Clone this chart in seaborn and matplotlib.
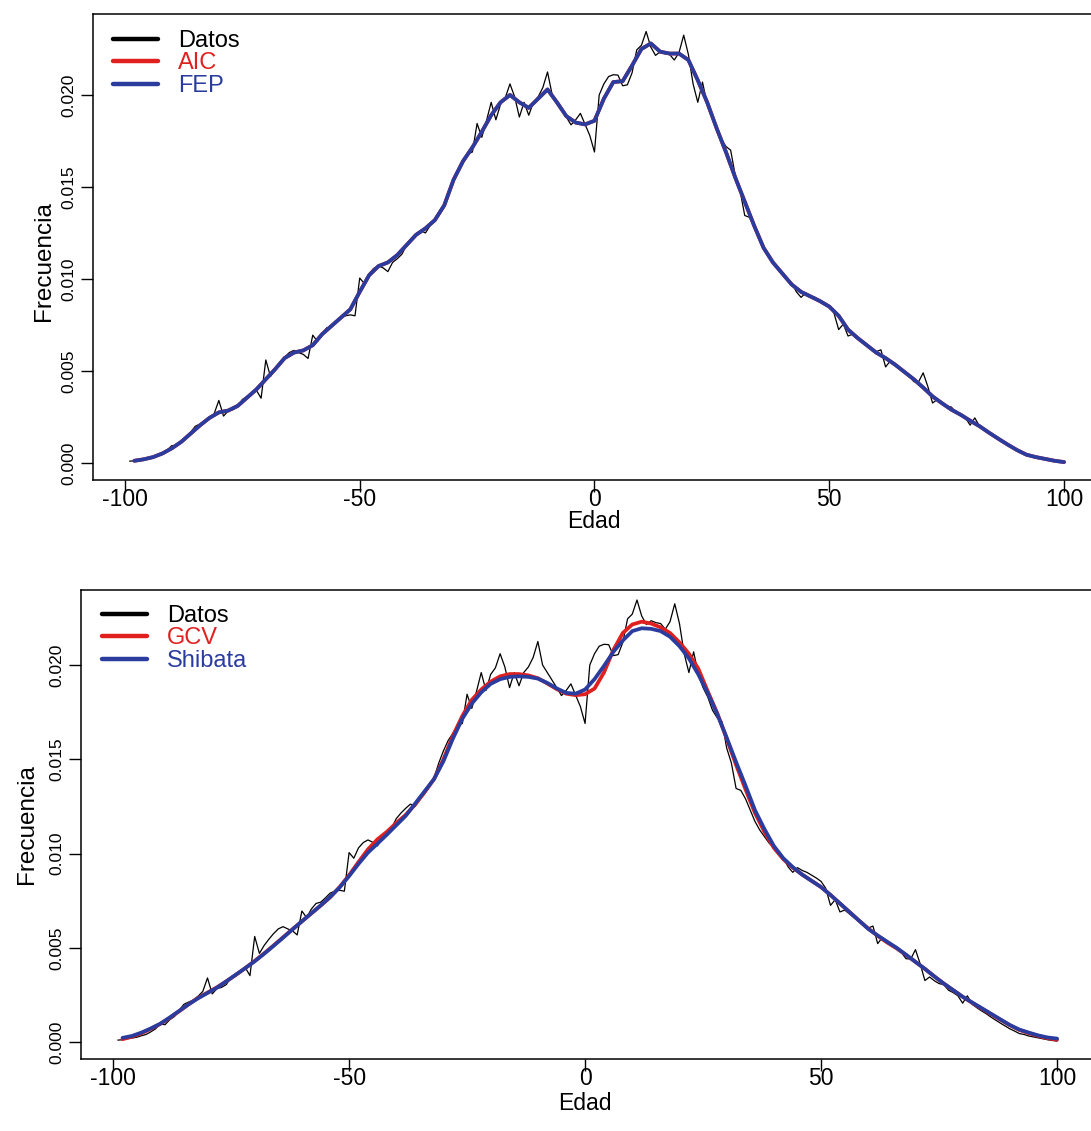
import matplotlib
matplotlib.use("Agg")
import matplotlib.pyplot as plt
import seaborn as sns
from matplotlib.lines import Line2D

# edades (eje x) de los datos y de las curvas suavizadas
edad = list(range(-99, 101))
edad_suave = list(range(-98, 101, 2))

# frecuencias observadas (linea negra fina), una por edad de -99 a 100
datos = [
    0.00010, 0.00012, 0.00017, 0.00021, 0.00025, 0.00033, 0.00040, 0.00054, 0.00070, 0.00095,
    0.00092, 0.00118, 0.00135, 0.00168, 0.00200, 0.00212, 0.00222, 0.00243, 0.00268, 0.00340,
    0.00255, 0.00283, 0.00290, 0.00305, 0.00345, 0.00362, 0.00378, 0.00395, 0.00352, 0.00560,
    0.00470, 0.00512, 0.00545, 0.00575, 0.00600, 0.00612, 0.00600, 0.00590, 0.00568, 0.00695,
    0.00660, 0.00705, 0.00735, 0.00742, 0.00765, 0.00790, 0.00800, 0.00805, 0.00800, 0.01005,
    0.00975, 0.01030, 0.01058, 0.01072, 0.01060, 0.01040, 0.01090, 0.01110, 0.01135, 0.01185,
    0.01215, 0.01240, 0.01262, 0.01250, 0.01290, 0.01325, 0.01352, 0.01402, 0.01480, 0.01545,
    0.01600, 0.01638, 0.01680, 0.01690, 0.01845, 0.01770, 0.01860, 0.01960, 0.01865, 0.01950,
    0.01985, 0.02060, 0.01990, 0.01880, 0.01960, 0.01890, 0.01960, 0.01990, 0.02040, 0.02125,
    0.02000, 0.01960, 0.01920, 0.01880, 0.01838, 0.01865, 0.01900, 0.01840, 0.01780, 0.01690,
    0.02000, 0.02060, 0.02100, 0.02110, 0.02108, 0.02050, 0.02055, 0.02120, 0.02245, 0.02270,
    0.02345, 0.02260, 0.02215, 0.02235, 0.02225, 0.02220, 0.02190, 0.02230, 0.02325, 0.02220,
    0.02060, 0.01960, 0.02070, 0.01950, 0.01880, 0.01830, 0.01760, 0.01720, 0.01700, 0.01560,
    0.01480, 0.01345, 0.01335, 0.01290, 0.01230, 0.01170, 0.01125, 0.01090, 0.01055, 0.01030,
    0.01000, 0.00978, 0.00930, 0.00900, 0.00925, 0.00910, 0.00900, 0.00885, 0.00870, 0.00852,
    0.00815, 0.00725, 0.00755, 0.00690, 0.00700, 0.00680, 0.00660, 0.00640, 0.00620, 0.00605,
    0.00615, 0.00522, 0.00555, 0.00535, 0.00515, 0.00495, 0.00475, 0.00442, 0.00440, 0.00490,
    0.00415, 0.00326, 0.00345, 0.00325, 0.00310, 0.00304, 0.00275, 0.00262, 0.00245, 0.00206,
    0.00245, 0.00200, 0.00182, 0.00165, 0.00150, 0.00132, 0.00116, 0.00100, 0.00085, 0.00070,
    0.00058, 0.00045, 0.00040, 0.00032, 0.00027, 0.00022, 0.00017, 0.00012, 0.00008, 0.00005,
]

# panel superior: FEP (AIC queda justo debajo, coincide)
fep = [
    0.00012, 0.00020, 0.00032, 0.00052, 0.00080, 0.00115, 0.00160, 0.00205, 0.00245, 0.00275,
    0.00285, 0.00310, 0.00355, 0.00400, 0.00455, 0.00510, 0.00570, 0.00600, 0.00612, 0.00640,
    0.00700, 0.00745, 0.00790, 0.00835, 0.00930, 0.01020, 0.01070, 0.01090, 0.01130, 0.01185,
    0.01240, 0.01275, 0.01320, 0.01400, 0.01540, 0.01640, 0.01715, 0.01800, 0.01890, 0.01960,
    0.02000, 0.01960, 0.01930, 0.01980, 0.02030, 0.01960, 0.01885, 0.01850, 0.01840, 0.01860,
    0.01980, 0.02070, 0.02075, 0.02160, 0.02250, 0.02280, 0.02235, 0.02225, 0.02225, 0.02190,
    0.02080, 0.01960, 0.01820, 0.01690, 0.01550, 0.01420, 0.01290, 0.01170, 0.01090, 0.01030,
    0.00970, 0.00930, 0.00905, 0.00880, 0.00850, 0.00800, 0.00725, 0.00680, 0.00640, 0.00600,
    0.00570, 0.00535, 0.00495, 0.00455, 0.00410, 0.00362, 0.00325, 0.00290, 0.00262, 0.00230,
    0.00200, 0.00165, 0.00132, 0.00100, 0.00070, 0.00045, 0.00032, 0.00022, 0.00012, 0.00005,
]
aic = list(fep)

# panel inferior
gcv = [
    0.00015, 0.00028, 0.00046, 0.00070, 0.00096, 0.00128, 0.00163, 0.00200, 0.00234, 0.00262,
    0.00290, 0.00322, 0.00356, 0.00392, 0.00430, 0.00470, 0.00512, 0.00555, 0.00598, 0.00640,
    0.00682, 0.00724, 0.00768, 0.00822, 0.00885, 0.00955, 0.01022, 0.01075, 0.01115, 0.01162,
    0.01205, 0.01260, 0.01325, 0.01395, 0.01500, 0.01625, 0.01730, 0.01815, 0.01870, 0.01912,
    0.01940, 0.01952, 0.01952, 0.01945, 0.01930, 0.01902, 0.01872, 0.01848, 0.01840, 0.01845,
    0.01875, 0.01960, 0.02080, 0.02170, 0.02215, 0.02230, 0.02220, 0.02200, 0.02170, 0.02120,
    0.02060, 0.01980, 0.01860, 0.01745, 0.01610, 0.01470, 0.01340, 0.01215, 0.01115, 0.01030,
    0.00970, 0.00925, 0.00888, 0.00855, 0.00822, 0.00780, 0.00735, 0.00690, 0.00645, 0.00602,
    0.00563, 0.00528, 0.00497, 0.00462, 0.00425, 0.00388, 0.00348, 0.00310, 0.00275, 0.00240,
    0.00208, 0.00178, 0.00148, 0.00118, 0.00089, 0.00064, 0.00047, 0.00032, 0.00020, 0.00012,
]
shibata = [
    0.00022, 0.00032, 0.00050, 0.00072, 0.00097, 0.00130, 0.00165, 0.00200, 0.00232, 0.00260,
    0.00288, 0.00322, 0.00357, 0.00392, 0.00428, 0.00468, 0.00510, 0.00553, 0.00597, 0.00640,
    0.00683, 0.00725, 0.00770, 0.00820, 0.00880, 0.00945, 0.01005, 0.01052, 0.01100, 0.01150,
    0.01200, 0.01265, 0.01330, 0.01395, 0.01490, 0.01610, 0.01715, 0.01795, 0.01855, 0.01900,
    0.01925, 0.01937, 0.01940, 0.01937, 0.01928, 0.01905, 0.01876, 0.01852, 0.01848, 0.01870,
    0.01925, 0.01995, 0.02070, 0.02130, 0.02180, 0.02195, 0.02192, 0.02180, 0.02150, 0.02100,
    0.02035, 0.01950, 0.01850, 0.01740, 0.01615, 0.01485, 0.01360, 0.01230, 0.01130, 0.01040,
    0.00975, 0.00928, 0.00888, 0.00855, 0.00822, 0.00780, 0.00735, 0.00690, 0.00645, 0.00600,
    0.00565, 0.00532, 0.00500, 0.00463, 0.00425, 0.00388, 0.00348, 0.00310, 0.00275, 0.00240,
    0.00210, 0.00180, 0.00150, 0.00120, 0.00090, 0.00066, 0.00050, 0.00035, 0.00024, 0.00018,
]

xticks = [-100, -50, 0, 50, 100]
xtick_labels = ["-100", "-50", "0", "50", "100"]
yticks = [0.0, 0.005, 0.010, 0.015, 0.020]
ytick_labels = ["0.000", "0.005", "0.010", "0.015", "0.020"]

ROJO = "#e0201f"
AZUL = "#2b3c9f"

sns.set_style("ticks")
plt.rcParams["font.family"] = ["Liberation Sans", "DejaVu Sans"]
plt.rcParams["axes.unicode_minus"] = False
for k in ["text.color", "axes.labelcolor", "xtick.color", "ytick.color", "axes.edgecolor"]:
    plt.rcParams[k] = "black"

W, H = 1091, 1131
fig = plt.figure(figsize=(W / 100, H / 100), dpi=100)
# the right side of both boxes falls outside the picture, as in the scan
ax1 = fig.add_axes([93 / W, (H - 480) / H, (1101.6 - 93) / W, 466 / H])
ax2 = fig.add_axes([81 / W, (H - 1059) / H, (1094.8 - 81) / W, 469 / H])


def panel(ax, curvas, nombres, ylim, ylab_y, ylab_x, xlab_y, leg_xy):
    sns.lineplot(x=edad, y=datos, ax=ax, color="black", lw=0.9)
    for vals, col in curvas:
        sns.lineplot(x=edad_suave, y=vals, ax=ax, color=col, lw=2.7)

    ax.set_xlim(-106.8, 108)
    ax.set_ylim(*ylim)
    ax.set_xticks(xticks)
    ax.set_xticklabels(xtick_labels, fontsize=16.5)
    ax.set_yticks(yticks)
    ax.set_yticklabels(ytick_labels, fontsize=12.5, rotation=90, va="center")
    ax.tick_params(axis="x", direction="out", length=8.6, width=1, color="black", pad=-2.5)
    ax.tick_params(axis="y", direction="out", length=8.6, width=1, color="black", pad=3.5)
    for sp in ax.spines.values():
        sp.set_color("black")
        sp.set_linewidth(1.1)

    ax.set_xlabel("Edad", fontsize=16.5)
    ax.xaxis.set_label_coords(0.497, xlab_y)
    ax.xaxis.label.set_va("center")
    ax.set_ylabel("Frecuencia", fontsize=17.5)
    ax.yaxis.set_label_coords(ylab_x, ylab_y)

    colores = ["black"] + [c for _, c in curvas]
    handles = [Line2D([], [], color=c, lw=3.2) for c in colores]
    leg = ax.legend(handles, nombres, loc="upper left", bbox_to_anchor=leg_xy,
                    borderaxespad=0, borderpad=0, frameon=False, fontsize=17,
                    handlelength=1.9, handletextpad=0.85, labelspacing=0.02)
    for t, c in zip(leg.get_texts(), colores):
        t.set_color(c)


panel(ax1, [(aic, ROJO), (fep, AZUL)], ["Datos", "AIC", "FEP"],
      (-0.000924, 0.0244), 0.4706, -0.0377, -0.090, (0.0198, 0.966))
panel(ax2, [(gcv, ROJO), (shibata, AZUL)], ["Datos", "GCV", "Shibata"],
      (-0.000902, 0.02398), 0.501, -0.0424, -0.094, (0.0207, 0.968))

fig.savefig("out.png", dpi=100)
